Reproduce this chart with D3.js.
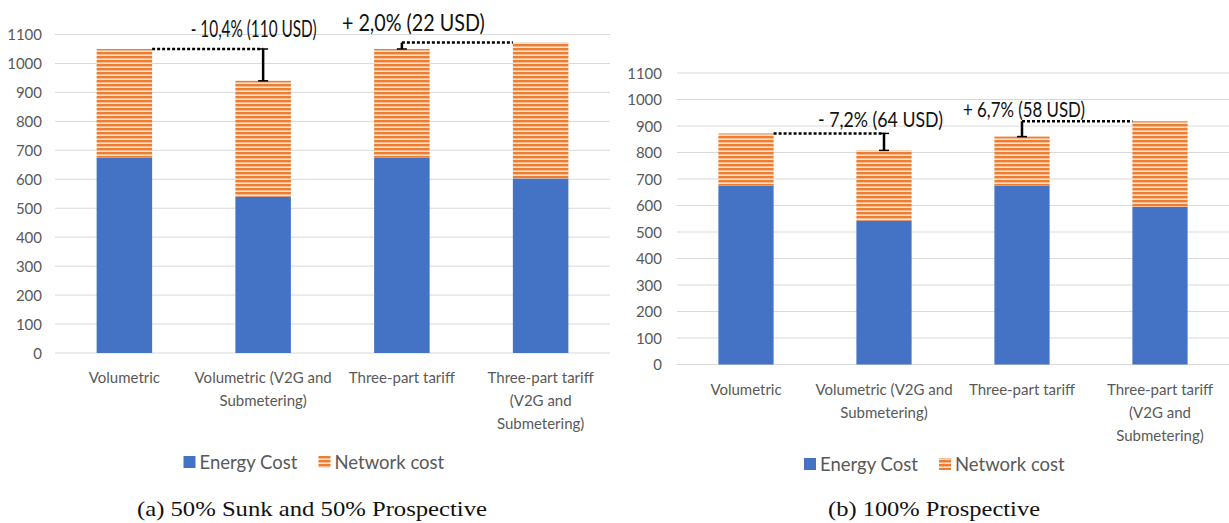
<!DOCTYPE html>
<html>
<head>
<meta charset="utf-8">
<script src="https://cdn.jsdelivr.net/npm/d3@7/dist/d3.min.js"></script>
<style>
  html, body { margin: 0; padding: 0; background: #fff; }
  svg { display: block; }
</style>
</head>
<body>
<svg id="chart" width="1229" height="523"></svg>
<script>
// Tariff categories and how their axis labels wrap
const categories = ["Volumetric", "Volumetric (V2G and Submetering)", "Three-part tariff", "Three-part tariff (V2G and Submetering)"];
const categoryLines = [["Volumetric"], ["Volumetric (V2G and", "Submetering)"], ["Three-part tariff"], ["Three-part tariff", "(V2G and", "Submetering)"]];

// (a) 50% sunk and 50% prospective, USD per year
const energyA = [675, 540, 675, 603];
const networkA = [375, 400, 375, 469];

// (b) 100% prospective, USD per year
const energyB = [675, 543, 675, 595];
const networkB = [197, 265, 185, 323];

const yTicks = [0, 100, 200, 300, 400, 500, 600, 700, 800, 900, 1000, 1100];
const seriesNames = ["Energy Cost", "Network cost"];

// Differences between the paired tariffs: [from index, to index, label]
const deltasA = [[0, 1, "- 10,4% (110 USD)"], [2, 3, "+ 2,0% (22 USD)"]];
const deltasB = [[0, 1, "- 7,2% (64 USD)"], [2, 3, "+ 6,7% (58 USD)"]];

const captions = ["(a) 50% Sunk and 50% Prospective", "(b) 100% Prospective"];

const BLUE = "#4472C4";
const ORANGE = "#ED7D31";
const TEXT = "#595959";
const GRID = "#D9D9D9";

const svg = d3.select("#chart");

// Horizontal striped fill for the network cost
const defs = svg.append("defs");
const pat = defs.append("pattern")
  .attr("id", "stripes")
  .attr("patternUnits", "userSpaceOnUse")
  .attr("width", 8).attr("height", 4);
pat.append("rect").attr("width", 8).attr("height", 4).attr("fill", "#FBE3D2");
pat.append("rect").attr("y", 0).attr("width", 8).attr("height", 2.4).attr("fill", ORANGE);

function drawPanel(opt) {
  const { energy, network, deltas, caption, x0, x1, yTop, yBottom, labelX, captionX, captionWidth,
          legendY, note } = opt;
  const totals = energy.map((e, i) => e + network[i]);

  const x = d3.scaleBand().domain(categories).range([x0, x1]).paddingInner(0.6).paddingOuter(0.3);
  const y = d3.scaleLinear().domain([0, 1100]).range([yBottom, yTop]);

  const g = svg.append("g");

  // gridlines
  g.selectAll("line.grid").data(yTicks).join("line")
    .attr("x1", x0).attr("x2", x1)
    .attr("y1", d => y(d)).attr("y2", d => y(d))
    .attr("stroke", GRID).attr("stroke-width", 1);

  // y tick labels
  const yAxis = d3.axisLeft(y).tickValues(yTicks).tickSize(0).tickPadding(0).tickFormat(d3.format("d"));
  const ya = g.append("g").attr("transform", `translate(${labelX},0)`).call(yAxis);
  ya.select(".domain").remove();
  ya.selectAll("text")
    .attr("fill", TEXT)
    .style("font-family", "Lato, sans-serif")
    .style("font-size", "15px")
    .attr("dy", "0.35em");

  // stacked bars
  const bw = x.bandwidth();
  g.selectAll("rect.energy").data(categories).join("rect")
    .attr("x", d => x(d)).attr("width", bw)
    .attr("y", (d, i) => y(energy[i]))
    .attr("height", (d, i) => y(0) - y(energy[i]))
    .attr("fill", BLUE);
  g.selectAll("rect.network").data(categories).join("rect")
    .attr("x", d => x(d)).attr("width", bw)
    .attr("y", (d, i) => y(totals[i]))
    .attr("height", (d, i) => y(energy[i]) - y(totals[i]))
    .attr("fill", "url(#stripes)");

  // category labels
  const xl = g.append("g");
  categories.forEach((c, i) => {
    const t = xl.append("text")
      .attr("x", x(c) + bw / 2)
      .attr("y", yBottom + 30)
      .attr("text-anchor", "middle")
      .attr("fill", TEXT)
      .style("font-family", "Lato, sans-serif")
      .style("font-size", "15px");
    categoryLines[i].forEach((ln, k) => {
      t.append("tspan").attr("x", x(c) + bw / 2).attr("dy", k === 0 ? 0 : 23).text(ln);
    });
  });

  // difference annotations
  deltas.forEach(([a, b, label], k) => {
    const ya_ = y(totals[a]), yb_ = y(totals[b]);
    const decrease = totals[b] < totals[a];
    const st = note[k];
    if (decrease) {
      const xv = x(categories[b]) + bw / 2;
      g.append("line")
        .attr("x1", x(categories[a]) + bw).attr("x2", xv)
        .attr("y1", ya_).attr("y2", ya_)
        .attr("stroke", "#000").attr("stroke-width", 2.5).attr("stroke-dasharray", "3,2");
      g.append("line").attr("x1", xv).attr("x2", xv).attr("y1", ya_).attr("y2", yb_)
        .attr("stroke", "#000").attr("stroke-width", 2.5);
      g.append("line").attr("x1", xv - 5).attr("x2", xv + 5).attr("y1", yb_).attr("y2", yb_)
        .attr("stroke", "#000").attr("stroke-width", 1.5);
      g.append("line").attr("x1", xv - 5).attr("x2", xv + 5).attr("y1", ya_).attr("y2", ya_)
        .attr("stroke", "#000").attr("stroke-width", 1.5);
      addLabel(g, xv + st.dx, ya_ - st.gap, label, st);
    } else {
      const xv = x(categories[a]) + bw / 2;
      g.append("line")
        .attr("x1", xv).attr("x2", x(categories[b]))
        .attr("y1", yb_).attr("y2", yb_)
        .attr("stroke", "#000").attr("stroke-width", 2.5).attr("stroke-dasharray", "3,2");
      g.append("line").attr("x1", xv).attr("x2", xv).attr("y1", yb_).attr("y2", ya_)
        .attr("stroke", "#000").attr("stroke-width", 2.5);
      g.append("line").attr("x1", xv - 5).attr("x2", xv + 5).attr("y1", ya_).attr("y2", ya_)
        .attr("stroke", "#000").attr("stroke-width", 1.5);
      addLabel(g, xv + st.dx, yb_ - st.gap, label, st);
    }
  });

  // legend
  const lg = g.append("g");
  const lx = (x0 + x1) / 2 - 149;
  const ly = legendY;
  lg.append("rect").attr("x", lx).attr("y", ly - 13).attr("width", 12).attr("height", 12).attr("fill", BLUE);
  lg.append("text").attr("x", lx + 16).attr("y", ly).text(seriesNames[0])
    .attr("fill", TEXT).style("font-family", "Lato, sans-serif").style("font-size", "18.5px");
  lg.append("rect").attr("x", lx + 135).attr("y", ly - 13).attr("width", 12).attr("height", 12).attr("fill", "url(#stripes)");
  lg.append("text").attr("x", lx + 151).attr("y", ly).text(seriesNames[1])
    .attr("fill", TEXT).style("font-family", "Lato, sans-serif").style("font-size", "18.5px");

  // caption
  svg.append("text")
    .attr("x", captionX).attr("y", 516)
    .attr("text-anchor", "middle")
    .attr("fill", "#111")
    .attr("textLength", captionWidth)
    .attr("lengthAdjust", "spacingAndGlyphs")
    .style("font-family", "'Liberation Serif', serif")
    .style("font-size", "21px")
    .text(caption);
}

// Condensed annotation text: measured, then squeezed horizontally to the wanted width
function addLabel(g, cx, by, label, st) {
  const t = g.append("text")
    .attr("x", 0).attr("y", 0)
    .attr("text-anchor", "middle")
    .attr("fill", "#111")
    .style("font-family", "Lato, sans-serif")
    .style("font-size", st.size + "px")
    .text(label);
  const natural = t.node().getComputedTextLength() || st.width;
  t.attr("transform", `translate(${cx},${by}) scale(${st.width / natural},1)`);
}

drawPanel({
  energy: energyA, network: networkA, deltas: deltasA, caption: captions[0],
  x0: 55, x1: 610, yTop: 34.5, yBottom: 353, labelX: 42, captionX: 312, captionWidth: 350,
  legendY: 469,
  note: [{ dx: -9.5, gap: 12, width: 126, size: 24 }, { dx: 11.5, gap: 12, width: 143, size: 24 }]
});
drawPanel({
  energy: energyB, network: networkB, deltas: deltasB, caption: captions[1],
  x0: 677, x1: 1229, yTop: 73, yBottom: 364.5, labelX: 662, captionX: 934, captionWidth: 212,
  legendY: 471,
  note: [{ dx: -3.5, gap: 6, width: 125, size: 21 }, { dx: 2, gap: 4, width: 122, size: 21 }]
});
</script>
</body>
</html>
